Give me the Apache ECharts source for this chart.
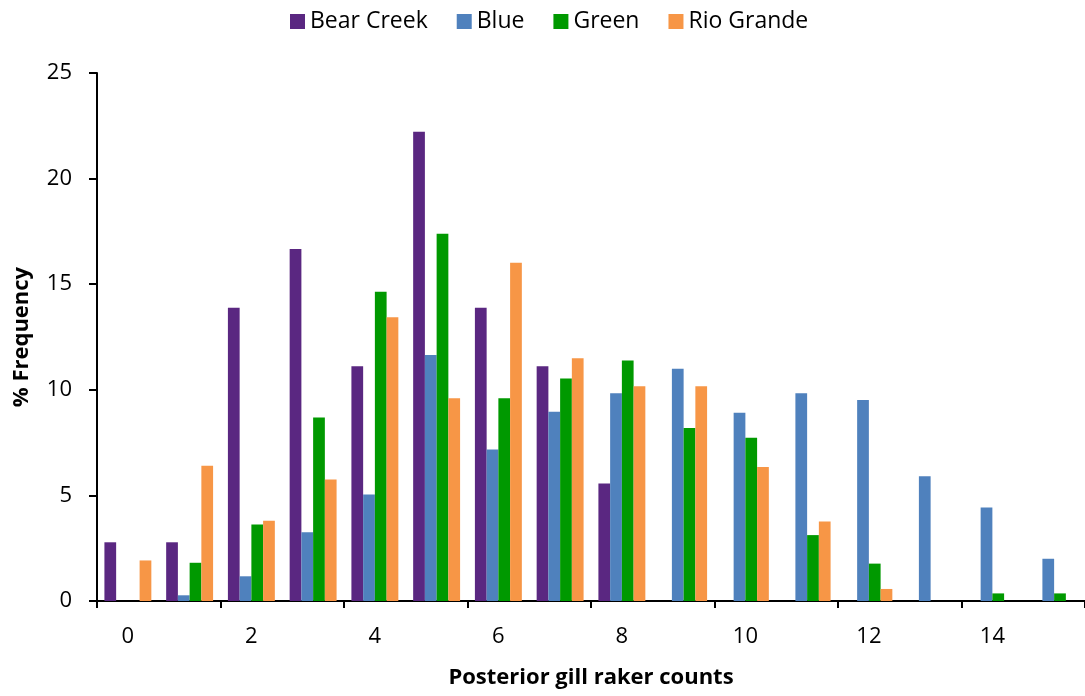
<!DOCTYPE html>
<html>
<head>
<meta charset="utf-8">
<script src="https://cdn.jsdelivr.net/npm/echarts@6/dist/echarts.min.js"></script>
<style>html,body{margin:0;padding:0;background:#fff;}#chart{width:1085px;height:696px;}</style>
</head>
<body>
<div id="chart"></div>
<script>
const categories = ['0','1','2','3','4','5','6','7','8','9','10','11','12','13','14','15'];
const seriesNames = ['Bear Creek','Blue','Green','Rio Grande'];
const bearCreek = [2.78, 2.78, 13.89, 16.67, 11.11, 22.22, 13.89, 11.11, 5.56, 0, 0, 0, 0, 0, 0, 0];
const blue = [0, 0.27, 1.17, 3.26, 5.04, 11.65, 7.17, 8.96, 9.84, 11.0, 8.91, 9.84, 9.52, 5.91, 4.43, 2.0];
const green = [0, 1.81, 3.62, 8.69, 14.64, 17.39, 9.6, 10.53, 11.39, 8.19, 7.73, 3.12, 1.77, 0, 0.36, 0.36];
const rioGrande = [1.92, 6.4, 3.8, 5.75, 13.44, 9.6, 16.02, 11.49, 10.17, 10.17, 6.34, 3.77, 0.57, 0, 0, 0];
const yTicks = [0, 5, 10, 15, 20, 25];
const colors = ['#5A2781', '#4F81BD', '#009900', '#F79646'];
const fontFam = '"Open Sans", "Liberation Sans", sans-serif';

const chart = echarts.init(document.getElementById('chart'), null, {renderer: 'canvas'});
const dataSets = [bearCreek, blue, green, rioGrande];
chart.setOption({
  animation: false,
  color: colors,
  textStyle: {fontFamily: fontFam},
  legend: {
    top: 5, left: 285,
    itemWidth: 15, itemHeight: 15, itemGap: 29,
    icon: 'rect',
    textStyle: {fontSize: 23, color: '#000', fontFamily: fontFam},
    data: seriesNames
  },
  grid: {left: 97, right: 0, top: 73, bottom: 95, containLabel: false, outerBoundsMode: 'none'},
  xAxis: {
    type: 'category',
    data: categories,
    boundaryGap: true,
    name: 'Posterior gill raker counts',
    nameLocation: 'middle',
    nameGap: 66,
    nameTextStyle: {fontSize: 22, fontWeight: 'bold', color: '#000', fontFamily: fontFam},
    axisLine: {lineStyle: {color: '#000', width: 2}},
    axisTick: {show: true, interval: 1, alignWithLabel: false, length: 7, lineStyle: {color: '#000', width: 2}},
    axisLabel: {interval: 1, fontSize: 22, color: '#000', margin: 25, fontFamily: fontFam}
  },
  yAxis: {
    type: 'value',
    min: 0, max: 25, interval: 5,
    name: '% Frequency',
    nameLocation: 'middle',
    nameGap: 64,
    nameTextStyle: {fontSize: 22, fontWeight: 'bold', color: '#000', fontFamily: fontFam},
    splitLine: {show: false},
    axisLine: {show: true, lineStyle: {color: '#000', width: 2}},
    axisTick: {show: true, length: 8, lineStyle: {color: '#000', width: 2}},
    axisLabel: {fontSize: 22, color: '#000', margin: 25, fontFamily: fontFam,
      formatter: v => yTicks.includes(v) ? String(v) : ''}
  },
  series: seriesNames.map((n, i) => ({
    name: n,
    type: 'bar',
    data: dataSets[i],
    barGap: '0%',
    barCategoryGap: '24%',
    itemStyle: {color: colors[i]}
  }))
});
</script>
</body>
</html>
